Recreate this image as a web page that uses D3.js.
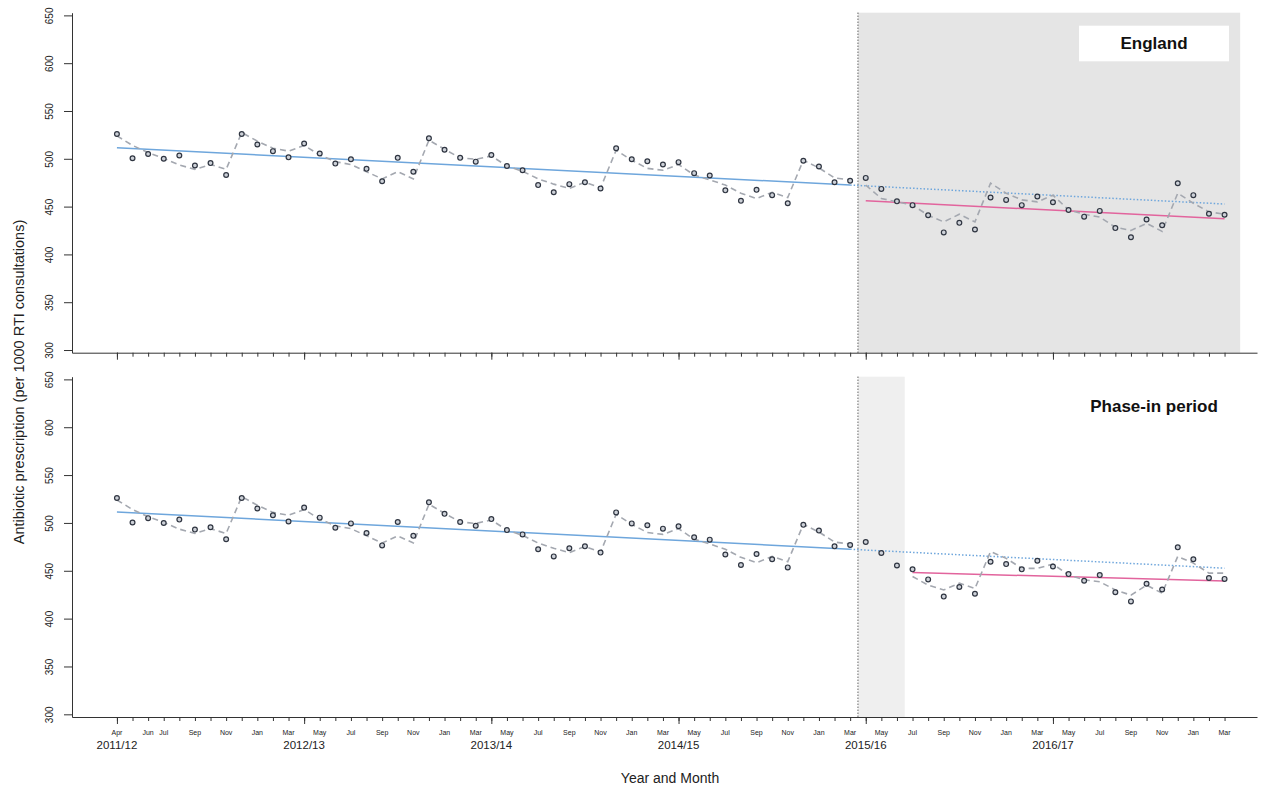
<!DOCTYPE html>
<html>
<head>
<meta charset="utf-8">
<script src="https://cdn.jsdelivr.net/npm/d3@7"></script>
<style>
  body { margin: 0; background: #fff; }
  svg { font-family: "Liberation Sans", Arial, sans-serif; }
</style>
</head>
<body>
<div id="chart"></div>
<script>
// month index 0 = Apr 2011 ... 71 = Mar 2017
const monthNames = ["Apr", "May", "Jun", "Jul", "Aug", "Sep", "Oct", "Nov", "Dec", "Jan", "Feb", "Mar"];
const labelledMonths = [0, 2, 3, 5, 7, 9, 11, 13, 15, 17, 19, 21, 23, 25, 27, 29, 31, 33, 35,
  37, 39, 41, 43, 45, 47, 49, 51, 53, 55, 57, 59, 61, 63, 65, 67, 69, 71];
const yearStarts = [0, 12, 24, 36, 48, 60];
const yearLabels = ["2011/12", "2012/13", "2013/14", "2014/15", "2015/16", "2016/17"];
const yTicks = [300, 350, 400, 450, 500, 550, 600, 650];

// observed rate per 1000 RTI consultations
const observed = [
  526, 500.5, 505, 500, 503.5, 493, 495.5, 483, 526, 515, 508, 501.5,
  516, 505.5, 495, 499.5, 489.5, 476.5, 501, 486.5, 521.5, 509.5, 501, 497,
  504, 492.5, 488, 472.5, 465, 473.5, 475.5, 469, 511, 499.5, 497.5, 494,
  496.5, 485, 482.5, 467, 456, 467.5, 462, 453.5, 498, 492, 475.5, 477,
  480, 468.5, 455.5, 451.5, 441, 423, 433, 426, 459.5, 457, 451.5, 460.5,
  454.5, 446.5, 439.5, 445.5, 427.5, 418, 436.5, 430.5, 474.5, 462, 442.5, 441.5
];

// seasonal model fit, pre-intervention (months 0-47)
const fitPre = [
  524, 514, 506.5, 500.5, 493.5, 489, 494, 489, 527.5, 518.5, 511, 508,
  514, 504, 497, 494, 486.5, 479, 486.5, 479, 519.5, 510, 501, 499.5,
  503, 492.5, 487, 479, 473.5, 469, 475.5, 469.5, 509, 498.5, 490, 488,
  494, 483, 478, 472.5, 464, 458.5, 465, 459.5, 498.5, 490.5, 480, 478
];
// seasonal fit after intervention: England from month 48, phase-in model from month 51
const fitPostEngland = [
  472.5, 458.5, 455, 451.5, 441, 434, 442, 434, 474.5, 464, 457, 455,
  462, 446.5, 442, 439, 428.5, 425, 432.5, 424, 464, 453.5, 444.5, 442
];
const fitPostPhaseIn = [
  444, 435, 430, 437, 431.5, 470, 463, 452.5, 452.5,
  457, 445.5, 440.5, 438.5, 430, 424.5, 435, 426.5, 465, 458, 447.5, 447.5
];

// trend lines [month, value]
const preTrend = [[0, 511.5], [47, 472.5]];
const counterfactual = [[47, 472.5], [71, 452.7]];
const postTrendEngland = [[48, 456.1], [71, 437.3]];
const postTrendPhaseIn = [[51, 448.1], [71, 439.4]];

const width = 1261;
const height = 792;

const svg = d3.select("#chart")
    .append("svg")
    .attr("width", width)
    .attr("height", height)
    .attr("viewBox", [0, 0, width, height]);

const x = d3.scaleLinear()
    .domain([-2.88, 73.08])
    .range([72, 1257]);

const panels = [
  { top: 12.7, bottom: 352.7, shade: [47.5, 72], shadeColor: "#e5e5e5",
    fitPost: fitPostEngland, postStart: 48, postTrend: postTrendEngland,
    label: "England", labelBox: true, labelY: 49, monthLabels: false },
  { top: 376.7, bottom: 717, shade: [47.5, 50.5], shadeColor: "#efefef",
    fitPost: fitPostPhaseIn, postStart: 51, postTrend: postTrendPhaseIn,
    label: "Phase-in period", labelBox: false, labelY: 411.5, monthLabels: true }
];

panels.forEach(p => {
  const y = d3.scaleLinear()
      .domain([297.2, 652.8])
      .range([p.bottom, p.top]);

  const line = d3.line()
      .x(d => x(d[0]))
      .y(d => y(d[1]));

  const g = svg.append("g");

  // shaded intervention / phase-in period
  g.append("rect")
      .attr("x", x(p.shade[0]))
      .attr("y", p.top)
      .attr("width", x(p.shade[1]) - x(p.shade[0]))
      .attr("height", p.bottom - p.top)
      .attr("fill", p.shadeColor);

  // intervention start
  g.append("line")
      .attr("x1", x(47.5)).attr("x2", x(47.5))
      .attr("y1", p.top).attr("y2", p.bottom)
      .attr("stroke", "#222")
      .attr("stroke-width", 1)
      .attr("stroke-dasharray", "1,2");

  // trends
  g.append("path")
      .attr("d", line(preTrend))
      .attr("fill", "none")
      .attr("stroke", "#6ea6dc")
      .attr("stroke-width", 1.5);

  g.append("path")
      .attr("d", line(counterfactual))
      .attr("fill", "none")
      .attr("stroke", "#6ea6dc")
      .attr("stroke-width", 1.5)
      .attr("stroke-dasharray", "1.5,2");

  g.append("path")
      .attr("d", line(p.postTrend))
      .attr("fill", "none")
      .attr("stroke", "#e2649d")
      .attr("stroke-width", 1.5);

  // seasonal fitted lines
  const fitSegments = [
    fitPre.map((v, i) => [i, v]),
    p.fitPost.map((v, i) => [p.postStart + i, v])
  ];
  g.selectAll("path.fit")
      .data(fitSegments)
      .join("path")
      .attr("class", "fit")
      .attr("d", line)
      .attr("fill", "none")
      .attr("stroke", "#a4a8b0")
      .attr("stroke-width", 1.6)
      .attr("stroke-dasharray", "6,4");

  // observed points
  g.selectAll("circle")
      .data(observed)
      .join("circle")
      .attr("cx", (d, i) => x(i))
      .attr("cy", d => y(d))
      .attr("r", 2.4)
      .attr("fill", "#cdd1d8")
      .attr("stroke", "#2f3541")
      .attr("stroke-width", 1.2);

  // y axis (its domain line is the left side of the box)
  g.append("g")
      .attr("transform", `translate(${x.range()[0]},0)`)
      .attr("color", "#333")
      .call(d3.axisLeft(y).tickValues(yTicks).tickSize(8).tickSizeOuter(0))
      .call(a => a.selectAll(".tick text")
          .attr("transform", "rotate(-90)")
          .attr("x", 0)
          .attr("y", -19.5)
          .attr("dy", 0)
          .attr("text-anchor", "middle")
          .attr("fill", "#222")
          .style("font-size", "10px"));

  // x axis: monthly minor ticks + longer ticks at each April
  g.append("g")
      .attr("transform", `translate(0,${p.bottom})`)
      .attr("color", "#333")
      .call(d3.axisBottom(x).tickValues(d3.range(observed.length)).tickSize(4)
          .tickSizeOuter(0).tickFormat(""));

  g.append("g")
      .attr("transform", `translate(0,${p.bottom})`)
      .attr("color", "#333")
      .call(d3.axisBottom(x).tickValues(yearStarts).tickSize(7).tickFormat(""))
      .call(a => a.select(".domain").remove());

  if (p.monthLabels) {
    g.selectAll("text.month")
        .data(labelledMonths)
        .join("text")
        .attr("class", "month")
        .attr("x", d => x(d))
        .attr("y", p.bottom + 18)
        .attr("text-anchor", "middle")
        .attr("fill", "#222")
        .style("font-size", "7px")
        .text(d => monthNames[d % 12]);

    g.selectAll("text.year")
        .data(yearLabels)
        .join("text")
        .attr("class", "year")
        .attr("x", (d, i) => x(yearStarts[i]))
        .attr("y", p.bottom + 32)
        .attr("text-anchor", "middle")
        .attr("fill", "#222")
        .style("font-size", "11.5px")
        .text(d => d);
  }

  // panel label
  const labelX = 1154;
  if (p.labelBox) {
    g.append("rect")
        .attr("x", labelX - 75)
        .attr("y", p.labelY - 23.3)
        .attr("width", 150)
        .attr("height", 35.6)
        .attr("fill", "#fff");
  }
  g.append("text")
      .attr("x", labelX)
      .attr("y", p.labelY)
      .attr("text-anchor", "middle")
      .attr("fill", "#111")
      .style("font-size", "17px")
      .style("font-weight", "bold")
      .text(p.label);
});

// axis titles
svg.append("text")
    .attr("transform", "translate(24,382) rotate(-90)")
    .attr("text-anchor", "middle")
    .attr("fill", "#222")
    .style("font-size", "14.5px")
    .text("Antibiotic prescription (per 1000 RTI consultations)");

svg.append("text")
    .attr("x", 670)
    .attr("y", 783)
    .attr("text-anchor", "middle")
    .attr("fill", "#222")
    .style("font-size", "14px")
    .text("Year and Month");
</script>
</body>
</html>
